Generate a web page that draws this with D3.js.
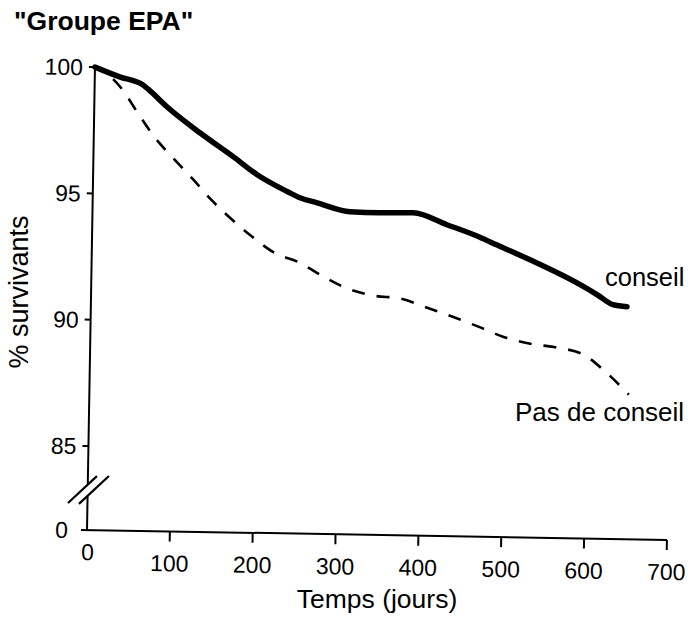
<!DOCTYPE html>
<html>
<head>
<meta charset="utf-8">
<script src="https://cdn.jsdelivr.net/npm/d3@7"></script>
<style>
  html, body { margin: 0; padding: 0; background: #fff; }
  svg { display: block; }
  text { font-family: "Liberation Sans", Arial, Helvetica, sans-serif; fill: #000; }
</style>
</head>
<body>
<svg id="chart" width="691" height="618"></svg>
<script>
// ---- data ----
const xTicks = [0, 100, 200, 300, 400, 500, 600, 700];
const yTicks = [0, 85, 90, 95, 100];

const conseilDays   = [0, 30, 58, 65, 88, 128, 169, 198, 235, 250, 271, 311, 347, 371, 387, 428, 468, 489, 529, 590, 611, 630, 647];
const conseilValues = [100, 99.63, 99.33, 99.15, 98.47, 97.47, 96.54, 95.85, 95.2, 94.97, 94.78, 94.45, 94.43, 94.44, 94.45, 94.0, 93.53, 93.23, 92.67, 91.72, 91.33, 90.95, 90.88];

const pasDays   = [0, 20, 31, 55, 73, 96, 120, 143, 166, 193, 220, 251, 278, 310, 340, 373, 406, 436, 468, 498, 531, 564, 595, 622, 651];
const pasValues = [100, 99.6, 99.23, 98.1, 97.28, 96.46, 95.65, 94.83, 94.13, 93.4, 92.78, 92.4, 91.9, 91.4, 91.15, 91.05, 90.7, 90.37, 89.99, 89.61, 89.35, 89.21, 88.96, 88.3, 87.4];

const title = '"Groupe EPA"';
const xTitle = "Temps (jours)";
const yTitle = "% survivants";
const labelConseil = "conseil";
const labelPas = "Pas de conseil";

// ---- layout ----
const svg = d3.select("#chart");
const originX = 87, originY = 530, tilt = 0.985;

const x = d3.scaleLinear().domain([0, 700]).range([0, 580]);
// broken axis: 0..85 compressed, 85..100 expanded
const y = d3.scaleLinear().domain([0, 85, 100]).range([0, -84, -463]);

const g = svg.append("g")
  .attr("transform", `translate(${originX},${originY}) rotate(${tilt})`);

// x axis line (extends slightly left as the 0 tick of y)
g.append("line")
  .attr("x1", -6).attr("x2", x(700)).attr("y1", 0).attr("y2", 0)
  .attr("stroke", "#000").attr("stroke-width", 2);

// x ticks
g.selectAll(".xt").data(xTicks.filter(d => d > 0)).enter().append("line")
  .attr("x1", d => x(d)).attr("x2", d => x(d))
  .attr("y1", 0).attr("y2", 10)
  .attr("stroke", "#000").attr("stroke-width", 2);

g.selectAll(".xl").data(xTicks).enter().append("text")
  .attr("x", d => d === 0 ? x(d) + 1 : x(d))
  .attr("y", d => d === 0 ? 30 : 40)
  .attr("text-anchor", "middle")
  .attr("font-size", 23)
  .text(d => d);

// y axis line with break
const breakLow = -34, breakHigh = -45;
g.append("line").attr("x1", 0).attr("x2", 0).attr("y1", 0).attr("y2", breakLow)
  .attr("stroke", "#000").attr("stroke-width", 2);
g.append("line").attr("x1", 0).attr("x2", 0).attr("y1", breakHigh).attr("y2", y(100))
  .attr("stroke", "#000").attr("stroke-width", 2);
// break slashes
g.append("line").attr("x1", -19.5).attr("y1", -26.7).attr("x2", 9).attr("y2", -54)
  .attr("stroke", "#000").attr("stroke-width", 2.2);
g.append("line").attr("x1", -8.5).attr("y1", -26).attr("x2", 21).attr("y2", -54.4)
  .attr("stroke", "#000").attr("stroke-width", 2.2);

// y ticks
g.selectAll(".yt").data(yTicks.filter(d => d > 0)).enter().append("line")
  .attr("x1", -6).attr("x2", 0)
  .attr("y1", d => y(d)).attr("y2", d => y(d))
  .attr("stroke", "#000").attr("stroke-width", 2);

g.selectAll(".yl").data(yTicks).enter().append("text")
  .attr("x", d => d === 0 ? -19 : -12)
  .attr("y", d => y(d))
  .attr("dy", "0.36em")
  .attr("text-anchor", "end")
  .attr("font-size", 23)
  .text(d => d);

// curves
const line = d3.line()
  .x(d => x(d[0]))
  .y(d => y(d[1]))
  .curve(d3.curveMonotoneX);

const pasData = pasDays.map((d, i) => [d, pasValues[i]]);
const conseilData = conseilDays.map((d, i) => [d, conseilValues[i]]);

g.append("path")
  .datum(pasData)
  .attr("d", line)
  .attr("fill", "none")
  .attr("stroke", "#000")
  .attr("stroke-width", 2.6)
  .attr("stroke-dasharray", "13,12")
  .attr("stroke-dashoffset", -22);

g.append("path")
  .datum(conseilData)
  .attr("d", line)
  .attr("fill", "none")
  .attr("stroke", "#000")
  .attr("stroke-width", 5.5)
  .attr("stroke-linecap", "round")
  .attr("stroke-linejoin", "round");

// texts
svg.append("text")
  .attr("x", 14).attr("y", 30)
  .attr("font-size", 26.5)
  .attr("font-weight", "bold")
  .text(title);

svg.append("text")
  .attr("x", 377).attr("y", 608)
  .attr("text-anchor", "middle")
  .attr("font-size", 26.5)
  .text(xTitle);

svg.append("text")
  .attr("transform", "translate(28,292) rotate(-90)")
  .attr("text-anchor", "middle")
  .attr("font-size", 27)
  .text(yTitle);

svg.append("text")
  .attr("x", 605).attr("y", 286)
  .attr("font-size", 25.5)
  .text(labelConseil);

svg.append("text")
  .attr("x", 515).attr("y", 421)
  .attr("font-size", 26)
  .text(labelPas);
</script>
</body>
</html>
